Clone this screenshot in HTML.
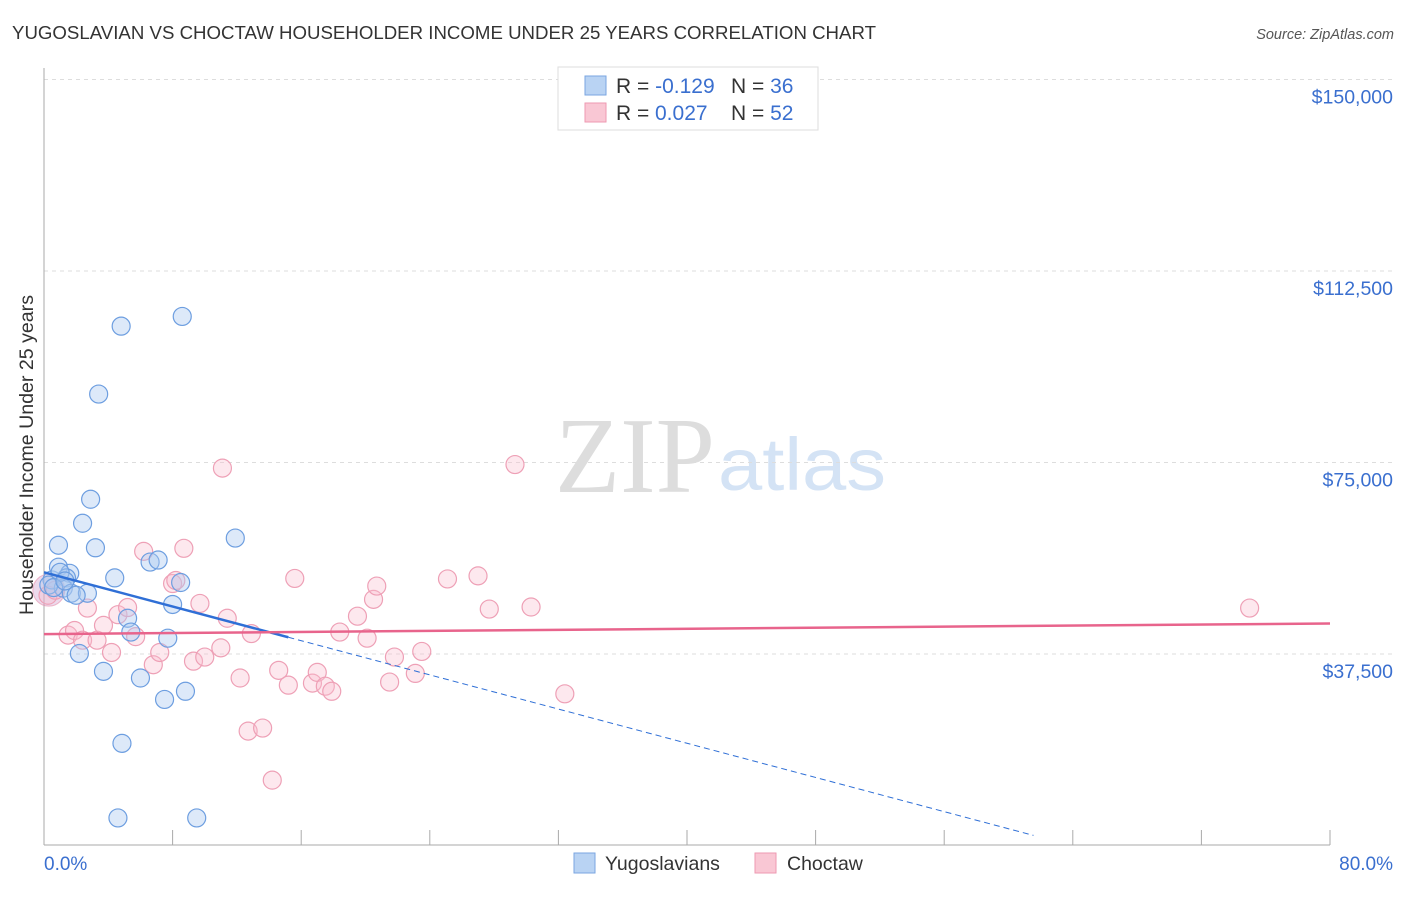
<!DOCTYPE html>
<html><head><meta charset="utf-8"><style>
body{margin:0;background:#fff;font-family:"Liberation Sans",sans-serif;}
svg text{font-family:"Liberation Sans",sans-serif;}
</style></head><body>
<svg id="chart" width="1406" height="892">
<text x="12" y="39" font-size="18" fill="#333" textLength="864" lengthAdjust="spacingAndGlyphs">YUGOSLAVIAN VS CHOCTAW HOUSEHOLDER INCOME UNDER 25 YEARS CORRELATION CHART</text>
<text x="1394" y="39" font-size="14.5" fill="#555" font-style="italic" text-anchor="end">Source: ZipAtlas.com</text>
<text x="555" y="492" font-size="108" fill="#ddd" textLength="160" lengthAdjust="spacingAndGlyphs" style="font-family:'Liberation Serif',serif">ZIP</text>
<text x="718" y="490" font-size="74" fill="#d4e3f5" textLength="168" lengthAdjust="spacingAndGlyphs">atlas</text>
<text transform="translate(33,455) rotate(-90)" font-size="19" fill="#333" text-anchor="middle" textLength="320" lengthAdjust="spacingAndGlyphs">Householder Income Under 25 years</text>
<g id="grid"></g><g id="marks"></g>
<g>
<rect x="558" y="67" width="260" height="63" fill="#fff" stroke="#ddd"/>
<rect x="585" y="76" width="21" height="19" fill="#b9d3f3" stroke="#7aa6e0"/>
<rect x="585" y="103" width="21" height="19" fill="#f9c7d4" stroke="#ee9ab2"/>
<text x="616" y="93" font-size="21" fill="#333">R = <tspan fill="#3a6fcf">-0.129</tspan><tspan x="731">N = </tspan><tspan fill="#3a6fcf">36</tspan></text>
<text x="616" y="120" font-size="21" fill="#333">R = <tspan fill="#3a6fcf" x="655">0.027</tspan><tspan x="731">N = </tspan><tspan fill="#3a6fcf">52</tspan></text>
</g>
<g>
<rect x="574" y="853" width="21" height="20" fill="#b9d3f3" stroke="#7aa6e0"/>
<text x="605" y="870" font-size="19.5" fill="#333">Yugoslavians</text>
<rect x="755" y="853" width="21" height="20" fill="#f9c7d4" stroke="#ee9ab2"/>
<text x="787" y="870" font-size="19.5" fill="#333">Choctaw</text>
</g>
</svg>
<script>
const yTicks=[37500,75000,112500,150000];
const yTickLabels=["$37,500","$75,000","$112,500","$150,000"];
const xEnds=["0.0%","80.0%"];
const blueX=[0.5,0.9,0.9,1.6,1.4,1.2,1.7,2.7,2.2,2.4,2.9,3.2,3.4,3.7,4.4,4.8,4.85,4.6,5.2,5.4,6.0,6.6,7.1,7.5,7.7,8.0,8.5,8.6,8.8,9.5,11.9,0.3,1.0,0.6,1.3,2.0];
const blueY=[52000,58800,54500,53300,52400,50400,49400,49400,37600,63100,67800,58300,88400,34100,52400,101700,20000,5400,44500,41800,32800,55500,55900,28600,40600,47200,51500,103600,30200,5400,60200,51000,53500,50500,51800,49000];
const pinkX=[0.25,0.7,1.5,1.9,2.4,2.7,3.3,3.7,4.2,4.6,5.2,5.7,6.2,6.8,7.2,8.0,8.2,8.7,9.3,9.7,10.0,11.0,11.1,11.4,12.2,12.7,12.9,13.6,14.2,14.6,15.2,15.6,16.7,17.0,17.5,17.9,18.4,19.5,20.1,20.5,20.7,21.5,21.8,23.1,23.5,25.1,27.0,27.7,29.3,30.3,32.4,75.0];
const pinkY=[49000,50000,41200,42100,40200,46500,40200,43100,37800,45200,46600,40900,57600,35400,37800,51300,51900,58200,36100,47400,36900,38700,73900,44500,32800,22400,41500,23000,12800,34300,31400,52300,31800,33900,31200,30200,41800,44900,40600,48200,50800,32000,36900,33700,38000,52200,52800,46300,74600,46700,29700,46500];
const blueLine=[53500,-837];
const pinkLine=[41400,26];
const X=v=>44+v/80*1286, Y=v=>845.5-v/37500*191.5;
const ns="http://www.w3.org/2000/svg";
function mk(t,a,p){const e=document.createElementNS(ns,t);for(const k in a)e.setAttribute(k,a[k]);p.appendChild(e);return e;}
const g=document.getElementById('grid'),m=document.getElementById('marks');
yTicks.forEach((v,i)=>{
 const l=mk('line',{x1:44,x2:1394,y1:Y(v),y2:Y(v),stroke:'#ddd','stroke-dasharray':'4,4'},g);
 
 
 const t=mk('text',{x:1393,y:Y(v)+24,'font-size':19.5,fill:'#3a6fcf','text-anchor':'end'},g);t.textContent=yTickLabels[i];
 
 
});
const ax=mk('line',{x1:44,x2:1330,y1:845,y2:845,stroke:'#aaa'},g);


const ay=mk('line',{x1:44,x2:44,y1:68,y2:845,stroke:'#aaa'},g);


for(let p=8;p<=80;p+=8){const t=mk('line',{x1:X(p),x2:X(p),y1:830,y2:845,stroke:'#aaa'},g);
 
 }
xEnds.forEach((s,i)=>{const t=mk('text',{x:i?1393:44,y:870,'font-size':19,fill:'#3a6fcf','text-anchor':i?'end':'start'},g);t.textContent=s;
 
 });
const big=mk('circle',{cx:X(0.3),cy:Y(50000),r:16,fill:'rgba(200,150,200,0.35)',stroke:'rgba(230,140,170,0.6)'},m);


pinkX.forEach((x,i)=>{const c=mk('circle',{cx:X(x),cy:Y(pinkY[i]),r:9,fill:'rgba(248,190,205,0.35)',stroke:'#eea0b6','stroke-width':1.2},m);
 
 });
blueX.forEach((x,i)=>{const c=mk('circle',{cx:X(x),cy:Y(blueY[i]),r:9,fill:'rgba(170,200,240,0.4)',stroke:'#6d9ee0','stroke-width':1.2},m);
 
 });
const bl=v=>blueLine[0]+blueLine[1]*v, pl=v=>pinkLine[0]+pinkLine[1]*v;
const b1=mk('line',{x1:X(0),y1:Y(bl(0)),x2:X(15.2),y2:Y(bl(15.2)),stroke:'#2f6fd6','stroke-width':2.5},m);


const xEnd=-blueLine[0]/blueLine[1]*0.963;
const b2=mk('line',{x1:X(15.2),y1:Y(bl(15.2)),x2:X(xEnd),y2:Y(bl(xEnd)),stroke:'#2f6fd6','stroke-width':1,'stroke-dasharray':'6,4'},m);


const p1=mk('line',{x1:X(0),y1:Y(pl(0)),x2:X(80),y2:Y(pl(80)),stroke:'#e8648c','stroke-width':2.5},m);


</script>
</body></html>
